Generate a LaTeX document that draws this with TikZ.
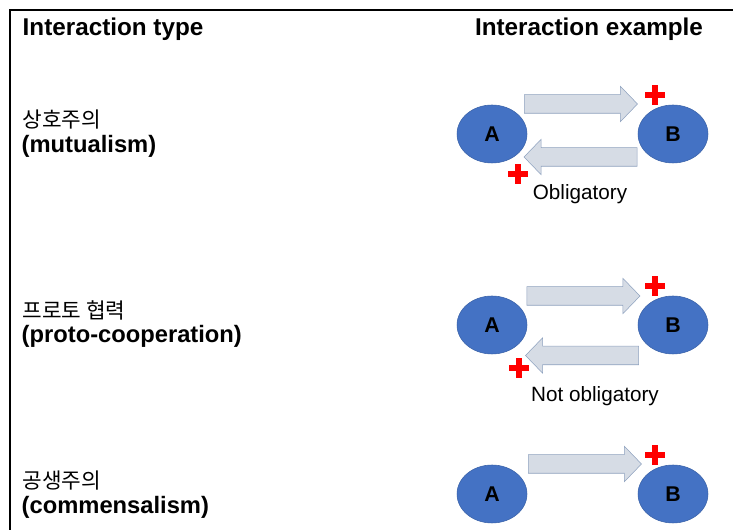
\documentclass[tikz,border=0pt]{standalone}
\usepackage{fontspec}
\setmainfont{Liberation Sans}
\newfontfamily\kr{Noto Sans CJK KR}
\usetikzlibrary{shapes.geometric,shapes.arrows}
\definecolor{orgblue}{HTML}{4472C4}
\definecolor{orgline}{HTML}{3A62A8}
\definecolor{arrfill}{HTML}{D6DCE5}
\definecolor{arrline}{HTML}{8FA2BF}
\tikzset{
  org/.style={draw=orgline, fill=orgblue, ellipse, inner sep=0,
    minimum width=52.5pt, minimum height=43.5pt, font=\fontsize{16}{19}\selectfont\bfseries},
  fwd/.style={single arrow, draw=arrline, fill=arrfill, inner xsep=0, inner ysep=6.75pt,
    minimum height=84.75pt,
    single arrow head extend=6.4pt, single arrow tip angle=92},
  bwd/.style={fwd, shape border rotate=180},
  head/.style={font=\fontsize{18.2}{21}\selectfont\bfseries},
  kname/.style={anchor=west, font=\fontsize{16}{19}\selectfont\kr},
  ename/.style={anchor=west, font=\fontsize{17.8}{21}\selectfont\bfseries},
  note/.style={font=\fontsize{15.5}{18}\selectfont},
  redplus/.pic={\fill[red] (-10,-3) rectangle (10,3);
                \fill[red] (-3,-10) rectangle (3,10);}
}

\begin{document}
\begin{tikzpicture}[x=.75pt,y=-.75pt]
\useasboundingbox (0,0) rectangle (733,530);
\draw[line width=1.4pt] (10,530) -- (10,10) -- (733,10);

\node[head, anchor=west] (h1) at (18,29) {Interaction type};
\node[head] (h2) at (589,29) {Interaction example};

% mutualism
\node[kname] (k1) at (18,120) {상호주의};
\node[ename] (e1) at (17,146) {(mutualism)};
\node[org] (A1) at (492,134) {A};
\node[org] (B1) at (673,134) {B};
\node[fwd] (f1) at (576.5,104) {};
\node[bwd] (g1) at (585,157) {};
\pic at (655,95) {redplus};
\pic at (518,174) {redplus};
\node[note] (n1) at (580,194) {Obligatory};

% proto-cooperation
\node[kname] (k2) at (18,310) {프로토 협력};
\node[ename] (e2) at (17,336) {(proto-cooperation)};
\node[org] (A2) at (492,325) {A};
\node[org] (B2) at (673,325) {B};
\node[fwd] (f2) at (579,296) {};
\node[bwd] (g2) at (586.5,355.5) {};
\pic at (655,286) {redplus};
\pic at (519,368) {redplus};
\node[note] (n2) at (595,396) {Not obligatory};

% commensalism
\node[kname] (k3) at (18,481) {공생주의};
\node[ename] (e3) at (17,507) {(commensalism)};
\node[org] (A3) at (492,494) {A};
\node[org] (B3) at (673,494) {B};
\node[fwd] (f3) at (580.5,464) {};
\pic at (655,455) {redplus};
\end{tikzpicture}
\end{document}
